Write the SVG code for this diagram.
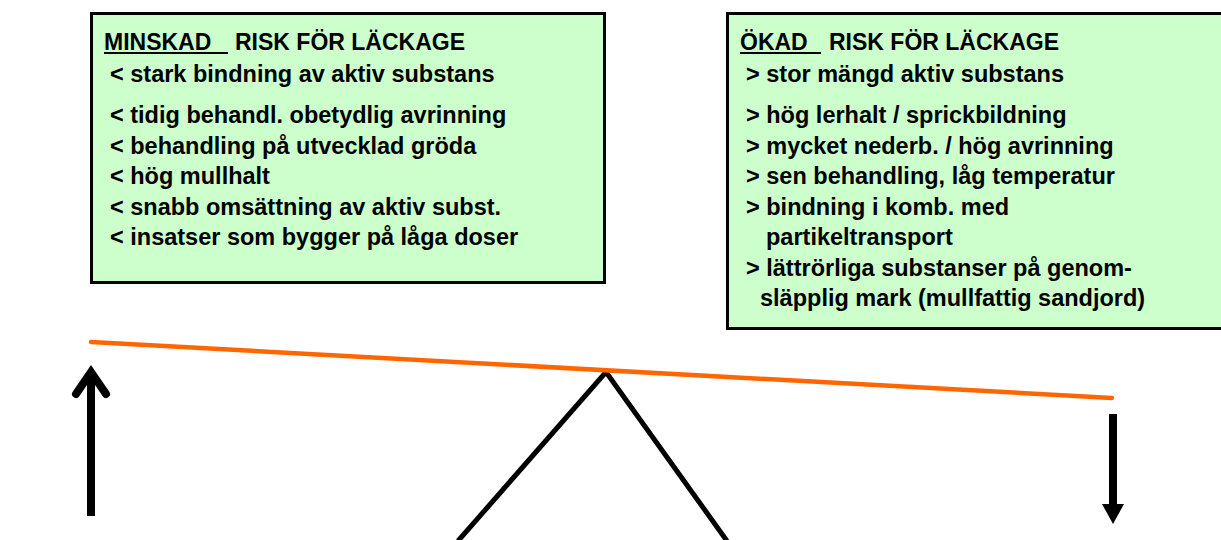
<svg xmlns="http://www.w3.org/2000/svg" width="1221" height="540" viewBox="0 0 1221 540">
  <style>
    .box { fill: #CCFFCC; stroke: #000; stroke-width: 3; }
    .t { font-family: "Liberation Sans", Arial, sans-serif; font-weight: bold; font-size: 23.5px; fill: #000; }
    .h { font-size: 23px; }
    .ul { stroke: #000; stroke-width: 2; }
    .blk { stroke: #000; fill: none; }
  </style>
  <rect width="1221" height="540" fill="#fff"/>
  <g id="box-minskad">
    <rect class="box" x="91.5" y="13.5" width="513" height="269"/>
    <text class="t h" x="104" y="50">MINSKAD</text>
    <line class="ul" x1="104" y1="53" x2="228" y2="53"/>
    <text class="t h" x="235" y="50">RISK FÖR LÄCKAGE</text>
    <text class="t" x="110" y="82">&lt; stark bindning av aktiv substans</text>
    <text class="t" x="110" y="123">&lt; tidig behandl. obetydlig avrinning</text>
    <text class="t" x="110" y="153.5">&lt; behandling på utvecklad gröda</text>
    <text class="t" x="110" y="184">&lt; hög mullhalt</text>
    <text class="t" x="110" y="214.5">&lt; snabb omsättning av aktiv subst.</text>
    <text class="t" x="110" y="245">&lt; insatser som bygger på låga doser</text>
  </g>
  <g id="box-okad">
    <rect class="box" x="727.5" y="13.5" width="500" height="315"/>
    <text class="t h" x="740" y="50">ÖKAD</text>
    <line class="ul" x1="740" y1="53" x2="821" y2="53"/>
    <text class="t h" x="829" y="50">RISK FÖR LÄCKAGE</text>
    <text class="t" x="746" y="82">&gt; stor mängd aktiv substans</text>
    <text class="t" x="746" y="123">&gt; hög lerhalt / sprickbildning</text>
    <text class="t" x="746" y="153.5">&gt; mycket nederb. / hög avrinning</text>
    <text class="t" x="746" y="184">&gt; sen behandling, låg temperatur</text>
    <text class="t" x="746" y="214.5">&gt; bindning i komb. med</text>
    <text class="t" x="766" y="245">partikeltransport</text>
    <text class="t" x="746" y="275.5">&gt; lättrörliga substanser på genom-</text>
    <text class="t" x="760" y="306">släpplig mark (mullfattig sandjord)</text>
  </g>
  <g id="fulcrum">
    <polyline class="blk" points="458,541 606,372 727,541" stroke-width="5" stroke-linejoin="miter"/>
  </g>
  <g id="beam">
    <line x1="91" y1="342" x2="1112" y2="398" stroke="#FF6600" stroke-width="4.5" stroke-linecap="round"/>
  </g>
  <g id="connectors">
    <line class="blk" x1="91" y1="378" x2="91" y2="516" stroke-width="8"/>
    <polyline class="blk" points="76,394 91,372 106,394" stroke-width="8" stroke-linecap="round" stroke-linejoin="miter"/>
    <line class="blk" x1="1113" y1="414" x2="1113" y2="506" stroke-width="8"/>
    <polygon points="1102,504 1124,504 1113,524" fill="#000"/>
  </g>
</svg>
